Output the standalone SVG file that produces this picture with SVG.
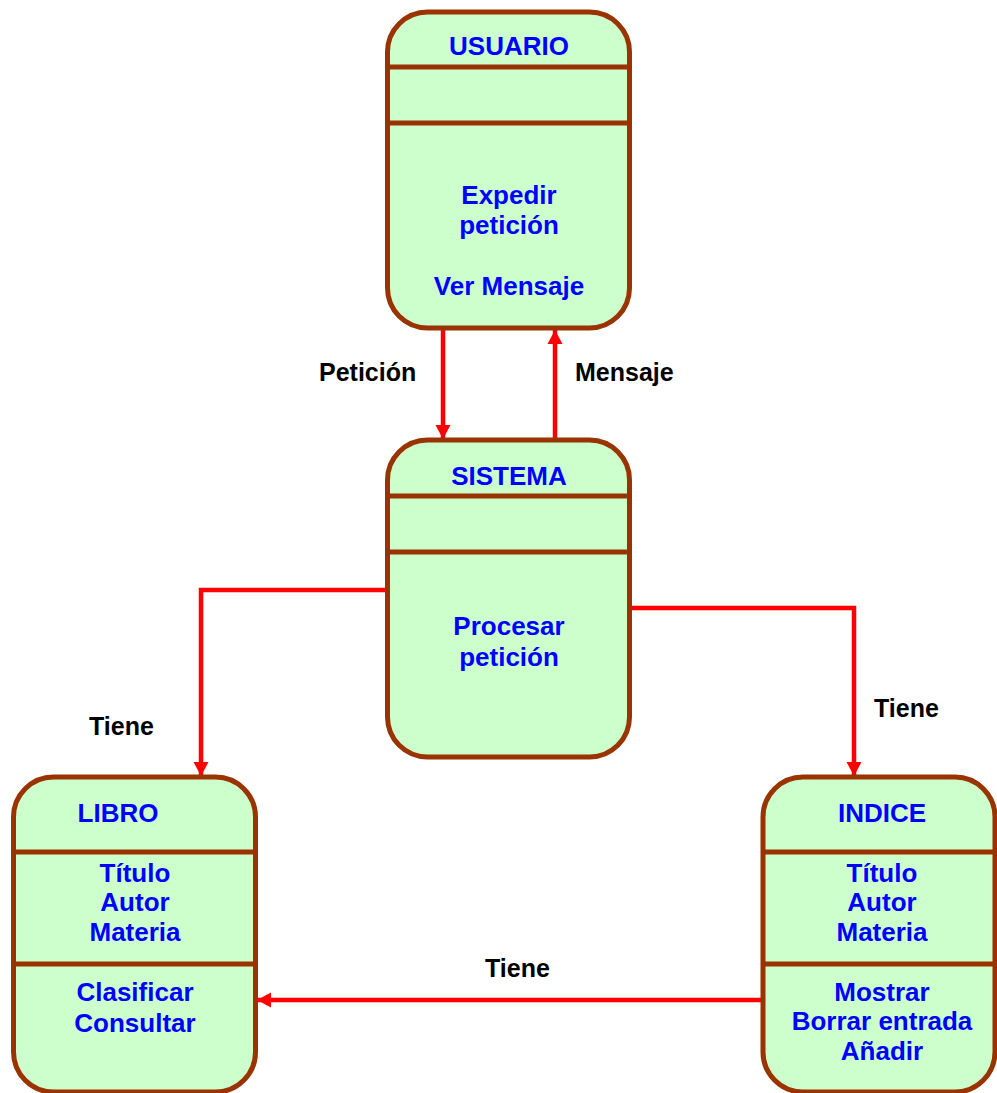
<svg xmlns="http://www.w3.org/2000/svg" width="997" height="1093" viewBox="0 0 997 1093">
  <style>
    .box { fill: #CCFFCC; stroke: #993300; stroke-width: 5; }
    .div { stroke: #993300; stroke-width: 5; }
    .t { font-family: "Liberation Sans", Arial, sans-serif; font-weight: bold; font-size: 26px; fill: #0000FF; text-anchor: middle; }
    .lbl { font-family: "Liberation Sans", Arial, sans-serif; font-weight: bold; font-size: 25px; fill: #000000; }
    .wire { fill: none; stroke: #FF0000; stroke-width: 4.5; }
  </style>
  <defs>
    <marker id="arrow" markerWidth="16" markerHeight="16" refX="14" refY="8" orient="auto" markerUnits="userSpaceOnUse">
      <path d="M0,0.5 L14,8 L0,15.5 Z" fill="#FF0000"/>
    </marker>
  </defs>

  <rect width="997" height="1093" fill="#FFFFFF"/>

  <!-- connectors -->
  <g id="connectors">
    <path class="wire" d="M443,330 L443,439" marker-end="url(#arrow)"/>
    <path class="wire" d="M555,438 L555,330" marker-end="url(#arrow)"/>
    <path class="wire" d="M387,590 L201,590 L201,776" marker-end="url(#arrow)"/>
    <path class="wire" d="M630,608 L854,608 L854,776" marker-end="url(#arrow)"/>
    <path class="wire" d="M762,1000 L257,1000" marker-end="url(#arrow)"/>
    <text class="lbl" x="319" y="381">Petición</text>
    <text class="lbl" x="575" y="381">Mensaje</text>
    <text class="lbl" x="89" y="735">Tiene</text>
    <text class="lbl" x="874" y="717">Tiene</text>
    <text class="lbl" x="485" y="977">Tiene</text>
  </g>

  <!-- USUARIO -->
  <g id="usuario">
    <rect class="box" x="387.5" y="12" width="242" height="316" rx="40" ry="40"/>
    <line class="div" x1="387.5" y1="67" x2="629.5" y2="67"/>
    <line class="div" x1="387.5" y1="123" x2="629.5" y2="123"/>
    <text class="t" x="509" y="55">USUARIO</text>
    <text class="t" x="509" y="204">Expedir</text>
    <text class="t" x="509" y="234">petición</text>
    <text class="t" x="509" y="295">Ver Mensaje</text>
  </g>

  <!-- SISTEMA -->
  <g id="sistema">
    <rect class="box" x="387.5" y="440" width="242" height="317" rx="40" ry="40"/>
    <line class="div" x1="387.5" y1="496" x2="629.5" y2="496"/>
    <line class="div" x1="387.5" y1="552" x2="629.5" y2="552"/>
    <text class="t" x="509" y="485">SISTEMA</text>
    <text class="t" x="509" y="635">Procesar</text>
    <text class="t" x="509" y="666">petición</text>
  </g>

  <!-- LIBRO -->
  <g id="libro">
    <rect class="box" x="13.5" y="777" width="242" height="315" rx="40" ry="40"/>
    <line class="div" x1="13.5" y1="852" x2="255.5" y2="852"/>
    <line class="div" x1="13.5" y1="964" x2="255.5" y2="964"/>
    <text class="t" x="118" y="822">LIBRO</text>
    <text class="t" x="135" y="882">Título</text>
    <text class="t" x="135" y="911">Autor</text>
    <text class="t" x="135" y="941">Materia</text>
    <text class="t" x="135" y="1001">Clasificar</text>
    <text class="t" x="135" y="1032">Consultar</text>
  </g>

  <!-- INDICE -->
  <g id="indice">
    <rect class="box" x="763" y="777" width="232" height="315" rx="40" ry="40"/>
    <line class="div" x1="763" y1="852" x2="995" y2="852"/>
    <line class="div" x1="763" y1="964" x2="995" y2="964"/>
    <text class="t" x="882" y="822">INDICE</text>
    <text class="t" x="882" y="882">Título</text>
    <text class="t" x="882" y="911">Autor</text>
    <text class="t" x="882" y="941">Materia</text>
    <text class="t" x="882" y="1001">Mostrar</text>
    <text class="t" x="882" y="1030">Borrar entrada</text>
    <text class="t" x="882" y="1060">Añadir</text>
  </g>
</svg>
